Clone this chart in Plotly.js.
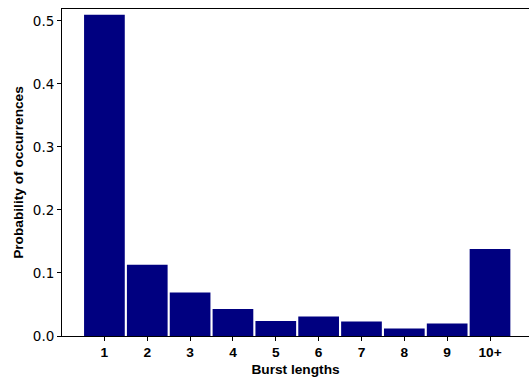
<!DOCTYPE html>
<html><head><meta charset="utf-8">
<script src="https://cdn.plot.ly/plotly-3.0.1.min.js"></script>
<style>html,body{margin:0;padding:0;background:#fff;}#chart{width:529px;height:378px;}</style>
</head><body><div id="chart"></div>
<script>
const categories = ["1","2","3","4","5","6","7","8","9","10+"];
const probabilities = [0.510, 0.113, 0.069, 0.043, 0.024, 0.031, 0.023, 0.012, 0.020, 0.138];
const yTickVals = [0, 0.1, 0.2, 0.3, 0.4, 0.5];
const yTickText = ["0.0","0.1","0.2","0.3","0.4","0.5"];

const trace = {
  type: "bar",
  x: categories,
  y: probabilities,
  marker: {color: "#000080", line: {width: 0}},
  hoverinfo: "none"
};
const boldFont = {family: "Liberation Sans, Arial, sans-serif", size: 13.7, weight: "bold", color: "#000"};
const layout = {
  width: 529, height: 378,
  margin: {l: 62, r: 0, t: 9, b: 42},
  paper_bgcolor: "#fff", plot_bgcolor: "#fff",
  bargap: 0.05,
  showlegend: false,
  font: {family: "DejaVu Sans", color: "#000", size: 13},
  xaxis: {
    type: "category",
    range: [-0.99, 9.91],
    showgrid: false, zeroline: false,
    showline: true, linecolor: "#000", linewidth: 1, mirror: true,
    ticks: "outside", ticklen: 4, tickcolor: "#000",
    tickfont: boldFont,
    title: {text: "Burst lengths", font: boldFont, standoff: 4}
  },
  yaxis: {
    range: [0, 0.519],
    tickvals: yTickVals, ticktext: yTickText,
    showgrid: false, zeroline: false,
    showline: true, linecolor: "#000", linewidth: 1,
    ticks: "outside", ticklen: 4, tickcolor: "#000",
    tickfont: {family: "DejaVu Sans", size: 13.5, color: "#000"},
    title: {text: "Probability of occurrences", font: boldFont, standoff: 6}
  }
};
Plotly.newPlot("chart", [trace], layout, {staticPlot: true, displayModeBar: false});
</script></body></html>
